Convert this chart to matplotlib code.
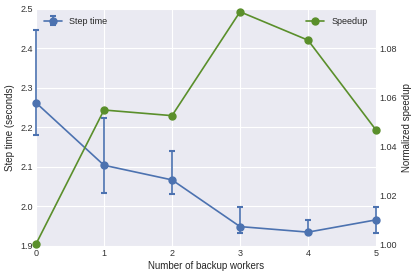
import numpy as np
import matplotlib.pyplot as plt

plt.style.use("seaborn-v0_8-darkgrid")
plt.rcParams["font.family"] = ["Liberation Sans", "DejaVu Sans"]

workers = [0, 1, 2, 3, 4, 5]
step_time = [2.262, 2.104, 2.067, 1.949, 1.935, 1.966]
err_low = [2.180, 2.033, 2.032, 1.934, 1.935, 1.934]
err_high = [2.446, 2.223, 2.140, 1.999, 1.966, 1.998]
speedup = [1.000, 1.0547, 1.0524, 1.0948, 1.0832, 1.0465]

step_time = np.array(step_time)
yerr = [step_time - np.array(err_low), np.array(err_high) - step_time]

blue = "#4C72B0"
green = "#5a8f2b"

fig, ax = plt.subplots(figsize=(4.16, 2.77), dpi=100)
fig.subplots_adjust(left=0.0865, right=0.904, top=0.969, bottom=0.112)

ax.errorbar(workers, step_time, yerr=yerr, color=blue, marker="o", markersize=5,
            linewidth=1.2, capsize=2.2, capthick=1.5, elinewidth=1.2,
            label="Step time", clip_on=False)
ax.set_xlim(0, 5)
ax.set_ylim(1.9, 2.5)
ax.set_xlabel("Number of backup workers", fontsize=7, labelpad=2)
ax.set_ylabel("Step time (seconds)", fontsize=7, labelpad=4)
ax.tick_params(labelsize=6.5, pad=2, labelcolor="#333333")
ax.legend(loc="upper left", fontsize=6.5, frameon=False)

ax2 = ax.twinx()
ax2.plot(workers, speedup, color=green, marker="o", markersize=5,
         linewidth=1.2, label="Speedup", clip_on=False)
ax2.set_ylim(0.9992, 1.0961)
ax2.set_yticks([1.00, 1.02, 1.04, 1.06, 1.08])
ax2.grid(False)
ax2.set_ylabel("Normalized speedup", fontsize=7, labelpad=4)
ax2.tick_params(labelsize=6.5, pad=2, labelcolor="#333333")
ax2.legend(loc="upper right", fontsize=6.5, frameon=False)

plt.savefig("out.png")
